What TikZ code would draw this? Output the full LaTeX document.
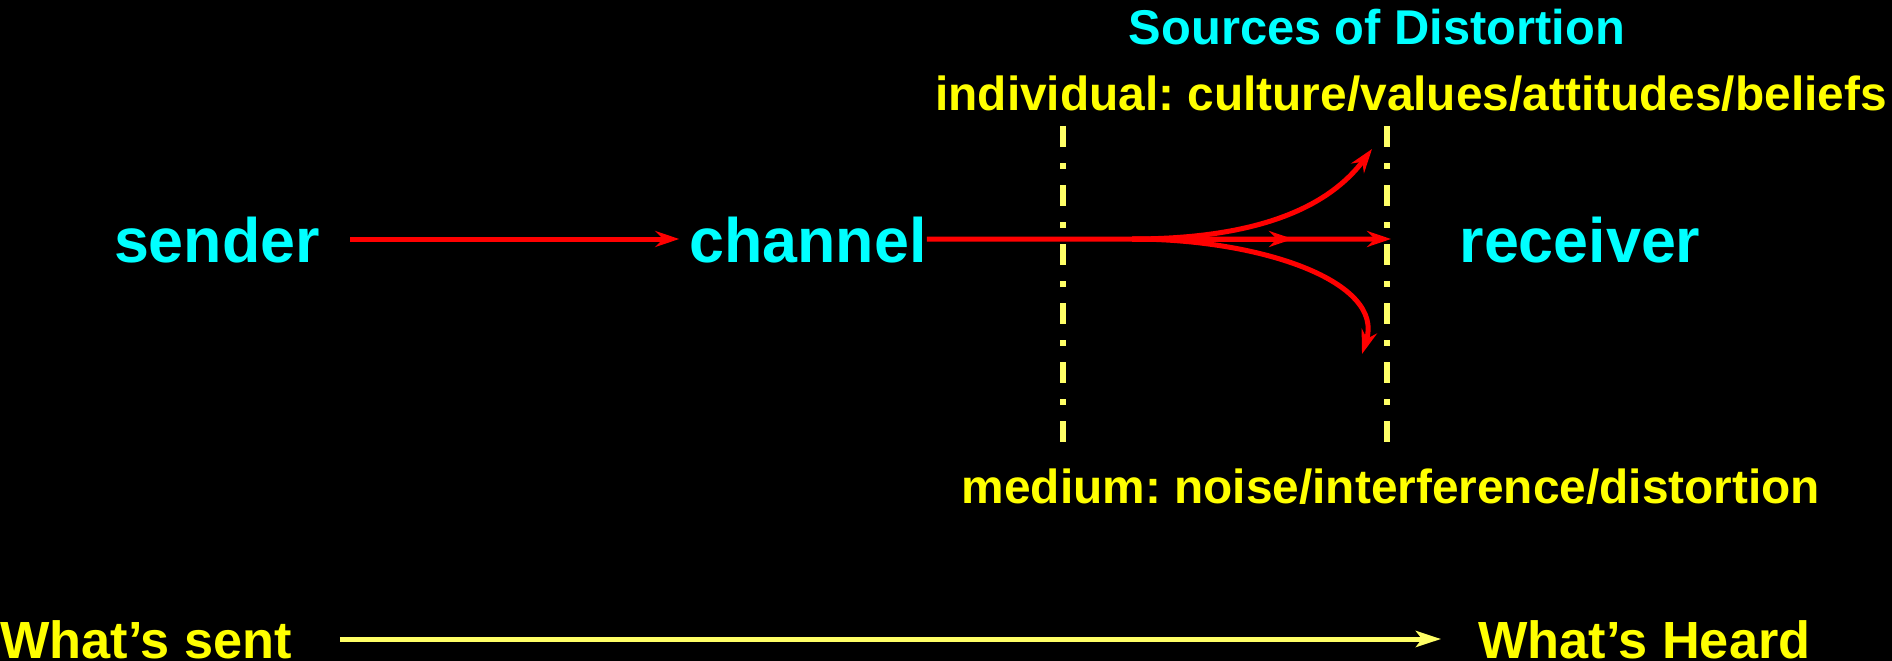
\documentclass[tikz,border=0pt]{standalone}
\usepackage{fontspec}
\setmainfont{Liberation Sans}
\usetikzlibrary{arrows.meta}
\definecolor{cy}{RGB}{0,255,255}
\definecolor{ye}{RGB}{255,255,0}
\definecolor{paleye}{RGB}{255,255,102}
\definecolor{rd}{RGB}{255,0,0}
\frenchspacing
\tikzset{
  bigword/.style={text=cy, font=\fontsize{63}{70}\selectfont\bfseries, inner sep=0pt, text height=46bp, text depth=0bp, anchor=base},
  title/.style={text=cy, font=\fontsize{49}{56}\selectfont\bfseries, inner sep=0pt, anchor=base},
  srclabel/.style={text=ye, font=\fontsize{48}{56}\selectfont\bfseries, inner sep=0pt, anchor=base},
  bottomlabel/.style={text=ye, font=\fontsize{52.5}{60}\selectfont\bfseries, inner sep=0pt},
  redarrow/.style={draw=rd, line width=5bp, -{Stealth[length=24bp, width=16bp, inset=8bp]}},
  redline/.style={draw=rd, line width=5bp},
  divider/.style={draw=paleye, line width=5.5bp, dash pattern=on 21bp off 16bp on 6bp off 16bp},
  whatarrow/.style={draw=paleye, line width=5bp, -{Stealth[length=25bp, width=16bp, inset=6bp]}}
}
\begin{document}
\begin{tikzpicture}[x=1bp, y=-1bp]
\fill[black] (0,0) rectangle (1892,661);
\useasboundingbox (0,0) rectangle (1892,661);

\node[bigword] (sender) at (217,262) {sender};
\node[bigword] (channel) at (808,262) {channel};
\node[bigword] (receiver) at (1580,262) {receiver};

\node[title] (sources) at (1377,45) {Sources of Distortion};
\node[srclabel] (individual) at (1411,111) {individual: culture/values/attitudes/beliefs};
\node[srclabel] (medium) at (1391,503) {medium: noise/interference/distortion};

\node[bottomlabel, anchor=base west] (sent) at (0,658) {What’s sent};
\node[bottomlabel, anchor=base west] (heard) at (1478,658) {What’s Heard};

\coordinate (d1top) at (1063,126);
\coordinate (d1bot) at (1063,442);
\coordinate (d2top) at (1387,126);
\coordinate (d2bot) at (1387,442);
\draw[divider] (d1top) -- (d1bot);
\draw[divider] (d2top) -- (d2bot);

\coordinate (split) at (1132,239);
\coordinate (midtip) at (1293,239);
\coordinate (righttip) at (1391,239);
\coordinate (uptip) at (1372,149);
\coordinate (downtip) at (1362,354);

\draw[redarrow, shorten <=30bp, shorten >=10bp] (sender.east) -- (channel.west);
\draw[redarrow] (channel.east) -- (righttip);
\draw[redarrow] (split) -- (midtip);
\draw[redarrow] (split) .. controls (1262,239) and (1330,205) .. (uptip);
\draw[redarrow] (split) .. controls (1262,239) and (1385,282) .. (downtip);

\draw[whatarrow, shorten <=48bp, shorten >=37bp] (sent.east |- 0,639) -- (heard.west |- 0,639);
\end{tikzpicture}
\end{document}
